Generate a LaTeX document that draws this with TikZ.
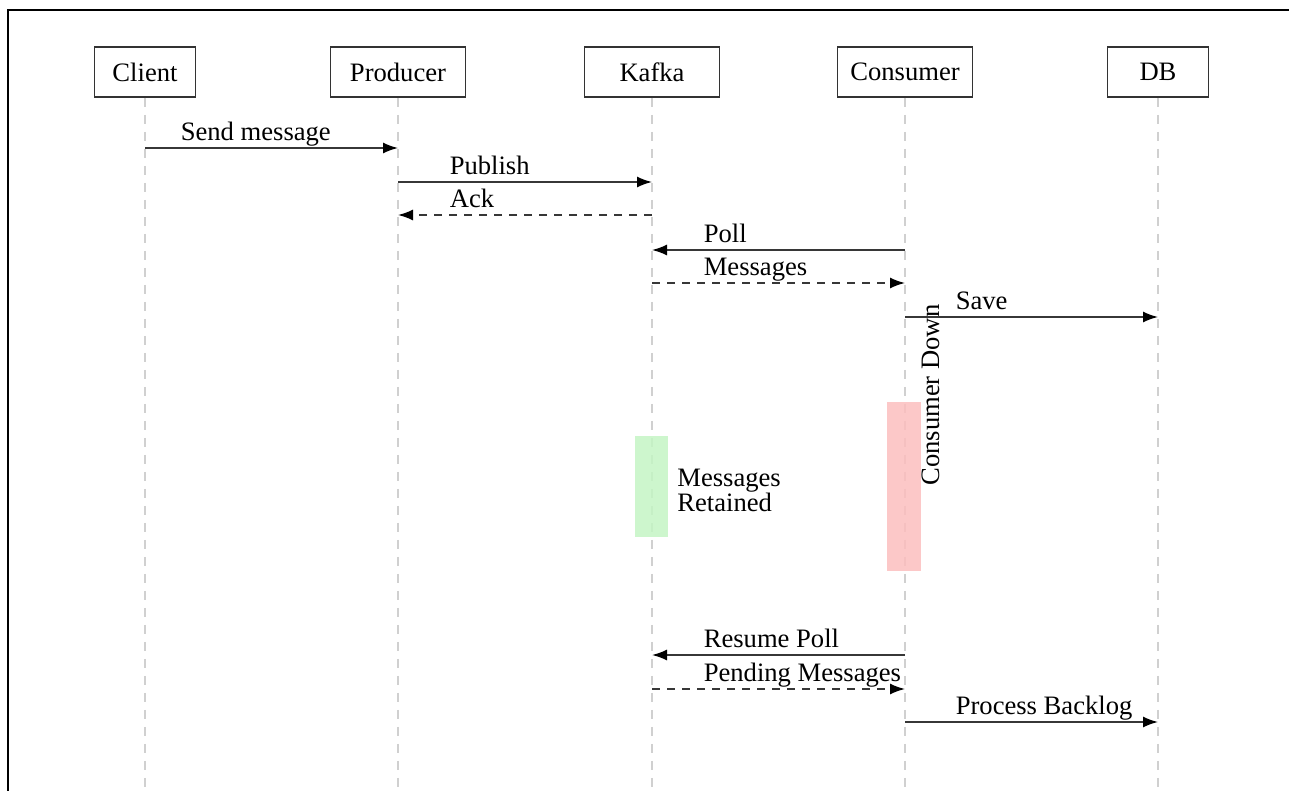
\documentclass[tikz,border=0pt]{standalone}
\usepackage{fontspec}
\setmainfont{Liberation Serif}
\usetikzlibrary{
  arrows.meta,
  positioning
}
\definecolor{lifegray}{RGB}{208,208,208}
\definecolor{linegray}{RGB}{55,55,55}
\definecolor{retaingreen}{RGB}{196,245,196}
\definecolor{downred}{RGB}{252,190,190}

\begin{document}
\begin{tikzpicture}[
      x=0.5pt, y=-0.5pt,
      participant/.style={
         rectangle,
         minimum width=67.5pt,
         minimum height=25pt,
         draw=black!80,
         line width=0.9pt,
         font=\fontsize{13.3pt}{16pt}\selectfont
      },
      narrow/.style={minimum width=50.5pt},
      lifeline/.style={
         draw=lifegray,
         line width=0.7pt,
         dash pattern=on 4.5pt off 4pt
      },
      call/.style={
         draw=linegray,
         line width=0.8pt,
         -{Latex[length=7.5pt,width=5.5pt,color=black]}
      },
      reply/.style={call, dash pattern=on 4pt off 3.5pt},
      msglabel/.style={
         anchor=base west,
         inner sep=0pt,
         yshift=3.75pt,
         font=\fontsize{13.3pt}{16pt}\selectfont
      },
      bar/.style={rectangle, inner sep=0pt, draw=none, fill opacity=0.85},
      note/.style={
         inner sep=0pt,
         align=left,
         font=\fontsize{13.3pt}{12.5pt}\selectfont
      }
    ]
    \useasboundingbox (0,0) rectangle (1289,791);
    \draw[line width=1.1pt] (8,10) rectangle (1330,830);

    % participants
    \node (client)   [participant, narrow] at (145,72)  {Client};
    \node (producer) [participant]         at (398,72)  {Producer};
    \node (kafka)    [participant]         at (652,72)  {Kafka};
    \node (consumer) [participant]         at (905,72)  {Consumer};
    \node (db)       [participant, narrow] at (1158,72) {DB};

    % lifelines
    \coordinate (bottom) at (0,800);
    \draw[lifeline] (client.south)   -- (client |- bottom);
    \draw[lifeline] (producer.south) -- (producer |- bottom);
    \draw[lifeline] (kafka.south)    -- (kafka |- bottom);
    \draw[lifeline] (consumer.south) -- (consumer |- bottom);
    \draw[lifeline] (db.south)       -- (db |- bottom);

    % outage
    \node (retained) [bar, fill=retaingreen, minimum width=16.5pt, minimum height=50.5pt] at (651,486.5) {};
    \node (down)     [bar, fill=downred, minimum width=17pt, minimum height=84.5pt] at (904,486.5) {};
    \node (retainednote) [note, anchor=west] at (677,490) {Messages\\Retained};
    \node (downnote) [note, rotate=90] at (931,395) {Consumer Down};

    % messages
    \draw[call]  (client |- 0,148)   -- (producer |- 0,148)
       node[msglabel, at start, xshift=17.5pt] {Send message};
    \draw[call]  (producer |- 0,182) -- (kafka |- 0,182)
       node[msglabel, at start, xshift=25.5pt] {Publish};
    \draw[reply] (kafka |- 0,215)    -- (producer |- 0,215)
       node[msglabel, at end, xshift=25.5pt] {Ack};
    \draw[call]  (consumer |- 0,250) -- (kafka |- 0,250)
       node[msglabel, at end, xshift=25.5pt] {Poll};
    \draw[reply] (kafka |- 0,283)    -- (consumer |- 0,283)
       node[msglabel, at start, xshift=25.5pt] {Messages};
    \draw[call]  (consumer |- 0,317) -- (db |- 0,317)
       node[msglabel, at start, xshift=25pt] {Save};
    \draw[call]  (consumer |- 0,655) -- (kafka |- 0,655)
       node[msglabel, at end, xshift=25.5pt] {Resume Poll};
    \draw[reply] (kafka |- 0,689)    -- (consumer |- 0,689)
       node[msglabel, at start, xshift=25.5pt] {Pending Messages};
    \draw[call]  (consumer |- 0,722) -- (db |- 0,722)
       node[msglabel, at start, xshift=25pt] {Process Backlog};
\end{tikzpicture}
\end{document}
